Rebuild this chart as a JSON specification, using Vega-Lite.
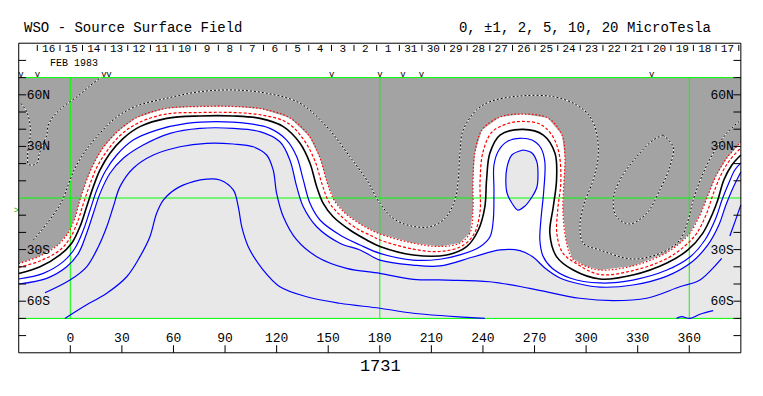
{
"$schema": "https://vega.github.io/schema/vega-lite/v6.json",
"width": 763, "height": 396, "padding": 0, "autosize": {"type": "none"},
"background": "white",
"config": {"view": {"stroke": null}},
"datasets": {
"box": [{"lon": -30, "lon2": 390, "lat": -70, "lat2": 70}],
"frame": [{"lon": -30, "lon2": 390, "lat": -90, "lat2": 90}],
"cont": [
{"c":"R1","lon":-30,"lat":-38.1},{"c":"R1","lon":-17.6,"lat":-33.7},{"c":"R1","lon":-7.2,"lat":-27.3},{"c":"R1","lon":-1.3,"lat":-20.4},{"c":"R1","lon":2.7,"lat":-11.6},{"c":"R1","lon":5.6,"lat":-1.2},{"c":"R1","lon":9.1,"lat":9.3},{"c":"R1","lon":13.2,"lat":19.2},{"c":"R1","lon":19.0,"lat":29.1},{"c":"R1","lon":27.2,"lat":38.4},{"c":"R1","lon":38.2,"lat":46.5},{"c":"R1","lon":55.1,"lat":52.0},{"c":"R1","lon":75.4,"lat":53.2},{"c":"R1","lon":94.6,"lat":53.2},{"c":"R1","lon":111.5,"lat":51.8},{"c":"R1","lon":127.8,"lat":46.5},{"c":"R1","lon":138.9,"lat":36.1},{"c":"R1","lon":145.2,"lat":23.3},{"c":"R1","lon":149.3,"lat":9.3},{"c":"R1","lon":153.4,"lat":-1.2},{"c":"R1","lon":159.7,"lat":-8.7},{"c":"R1","lon":169.6,"lat":-15.7},{"c":"R1","lon":180.1,"lat":-20.9},{"c":"R1","lon":199.3,"lat":-26.2},{"c":"R1","lon":215.0,"lat":-28.2},{"c":"R1","lon":226.6,"lat":-26.2},{"c":"R1","lon":232.4,"lat":-20.4},{"c":"R1","lon":234.2,"lat":-7.0},{"c":"R1","lon":234.2,"lat":9.3},{"c":"R1","lon":235.3,"lat":26.2},{"c":"R1","lon":239.4,"lat":39.5},{"c":"R1","lon":249.9,"lat":47.1},{"c":"R1","lon":263.2,"lat":48.8},{"c":"R1","lon":277.8,"lat":46.5},{"c":"R1","lon":286.0,"lat":36.6},{"c":"R1","lon":287.7,"lat":23.3},{"c":"R1","lon":287.1,"lat":9.3},{"c":"R1","lon":286.5,"lat":-7.0},{"c":"R1","lon":288.3,"lat":-24.4},{"c":"R1","lon":291.8,"lat":-34.9},{"c":"R1","lon":299.4,"lat":-39.5},{"c":"R1","lon":308.0,"lat":-41.9},{"c":"R1","lon":327.2,"lat":-39.5},{"c":"R1","lon":345.3,"lat":-32.6},{"c":"R1","lon":354.6,"lat":-26.2},{"c":"R1","lon":360.4,"lat":-20.4},{"c":"R1","lon":366.2,"lat":-9.9},{"c":"R1","lon":370.9,"lat":1.7},{"c":"R1","lon":375.5,"lat":12.8},{"c":"R1","lon":381.9,"lat":23.3},{"c":"R1","lon":390,"lat":32.6},
{"c":"Wc","lon":390,"lat":-70},{"c":"Wc","lon":-30,"lat":-70},
{"c":"R2","lon":-30,"lat":-40.3},{"c":"R2","lon":-17.6,"lat":-36.6},{"c":"R2","lon":-6.0,"lat":-30.2},{"c":"R2","lon":-0.2,"lat":-23.3},{"c":"R2","lon":4.2,"lat":-14.0},{"c":"R2","lon":7.7,"lat":-2.9},{"c":"R2","lon":11.5,"lat":8.1},{"c":"R2","lon":15.5,"lat":18.0},{"c":"R2","lon":21.3,"lat":27.3},{"c":"R2","lon":28.9,"lat":36.3},{"c":"R2","lon":39.4,"lat":43.6},{"c":"R2","lon":55.7,"lat":48.8},{"c":"R2","lon":75.4,"lat":49.7},{"c":"R2","lon":94.6,"lat":49.7},{"c":"R2","lon":110.9,"lat":48.3},{"c":"R2","lon":126.0,"lat":43.9},{"c":"R2","lon":135.9,"lat":33.7},{"c":"R2","lon":142.3,"lat":21.5},{"c":"R2","lon":146.4,"lat":8.1},{"c":"R2","lon":150.4,"lat":-2.3},{"c":"R2","lon":156.8,"lat":-9.9},{"c":"R2","lon":166.1,"lat":-17.4},{"c":"R2","lon":175.4,"lat":-22.1},{"c":"R2","lon":180.1,"lat":-24.4},{"c":"R2","lon":199.3,"lat":-29.7},{"c":"R2","lon":215.0,"lat":-31.1},{"c":"R2","lon":227.8,"lat":-27.9},{"c":"R2","lon":234.8,"lat":-20.9},{"c":"R2","lon":238.3,"lat":-8.1},{"c":"R2","lon":238.3,"lat":9.3},{"c":"R2","lon":240.0,"lat":26.7},{"c":"R2","lon":245.3,"lat":38.4},{"c":"R2","lon":254.6,"lat":43.3},{"c":"R2","lon":263.2,"lat":44.5},{"c":"R2","lon":273.1,"lat":43.0},{"c":"R2","lon":280.1,"lat":36.6},{"c":"R2","lon":284.2,"lat":26.2},{"c":"R2","lon":285.3,"lat":9.3},{"c":"R2","lon":283.6,"lat":-5.8},{"c":"R2","lon":283.0,"lat":-20.9},{"c":"R2","lon":286.5,"lat":-32.0},{"c":"R2","lon":294.7,"lat":-38.4},{"c":"R2","lon":308.0,"lat":-44.5},{"c":"R2","lon":327.2,"lat":-42.2},{"c":"R2","lon":346.4,"lat":-35.5},{"c":"R2","lon":357.4,"lat":-27.9},{"c":"R2","lon":364.4,"lat":-20.4},{"c":"R2","lon":370.2,"lat":-8.7},{"c":"R2","lon":373.7,"lat":1.7},{"c":"R2","lon":378.4,"lat":13.4},{"c":"R2","lon":383.6,"lat":22.1},{"c":"R2","lon":390,"lat":29.1},
{"c":"K","lon":-30,"lat":-43.9},{"c":"K","lon":-17.6,"lat":-40.0},{"c":"K","lon":-6.0,"lat":-33.1},{"c":"K","lon":0.8,"lat":-26.3},{"c":"K","lon":5.6,"lat":-16.7},{"c":"K","lon":9.5,"lat":-5.1},{"c":"K","lon":13.4,"lat":6.6},{"c":"K","lon":17.3,"lat":16.3},{"c":"K","lon":23.1,"lat":26.0},{"c":"K","lon":30.8,"lat":34.7},{"c":"K","lon":40.5,"lat":41.5},{"c":"K","lon":56.1,"lat":46.3},{"c":"K","lon":75.4,"lat":47.7},{"c":"K","lon":94.8,"lat":47.7},{"c":"K","lon":110.3,"lat":46.3},{"c":"K","lon":123.9,"lat":41.5},{"c":"K","lon":133.6,"lat":31.8},{"c":"K","lon":139.4,"lat":20.2},{"c":"K","lon":143.3,"lat":6.6},{"c":"K","lon":147.1,"lat":-3.1},{"c":"K","lon":152.9,"lat":-10.9},{"c":"K","lon":162.6,"lat":-18.6},{"c":"K","lon":172.4,"lat":-24.4},{"c":"K","lon":180.1,"lat":-28.2},{"c":"K","lon":199.5,"lat":-33.1},{"c":"K","lon":218.9,"lat":-33.1},{"c":"K","lon":230.5,"lat":-28.3},{"c":"K","lon":237.3,"lat":-18.6},{"c":"K","lon":241.1,"lat":-5.1},{"c":"K","lon":242.1,"lat":10.5},{"c":"K","lon":244.0,"lat":26.0},{"c":"K","lon":249.9,"lat":36.6},{"c":"K","lon":263.4,"lat":39.9},{"c":"K","lon":275.1,"lat":36.6},{"c":"K","lon":281.9,"lat":26.0},{"c":"K","lon":282.8,"lat":10.5},{"c":"K","lon":280.9,"lat":-5.1},{"c":"K","lon":278.9,"lat":-20.5},{"c":"K","lon":282.8,"lat":-34.1},{"c":"K","lon":292.5,"lat":-41.9},{"c":"K","lon":308.0,"lat":-47.1},{"c":"K","lon":327.2,"lat":-44.8},{"c":"K","lon":347.0,"lat":-37.8},{"c":"K","lon":359.2,"lat":-30.2},{"c":"K","lon":367.9,"lat":-20.4},{"c":"K","lon":373.7,"lat":-8.7},{"c":"K","lon":376.6,"lat":-1.2},{"c":"K","lon":380.1,"lat":10.5},{"c":"K","lon":384.8,"lat":19.2},{"c":"K","lon":390,"lat":25.0},
{"c":"B1","lon":-30,"lat":-47.1},{"c":"B1","lon":-15.7,"lat":-43.8},{"c":"B1","lon":-4.1,"lat":-37.0},{"c":"B1","lon":2.7,"lat":-29.2},{"c":"B1","lon":7.6,"lat":-18.6},{"c":"B1","lon":11.5,"lat":-7.0},{"c":"B1","lon":15.4,"lat":4.7},{"c":"B1","lon":20.2,"lat":15.3},{"c":"B1","lon":27.0,"lat":25.0},{"c":"B1","lon":36.6,"lat":33.7},{"c":"B1","lon":50.2,"lat":39.5},{"c":"B1","lon":67.7,"lat":43.4},{"c":"B1","lon":85.1,"lat":44.4},{"c":"B1","lon":102.6,"lat":43.4},{"c":"B1","lon":116.1,"lat":40.5},{"c":"B1","lon":125.8,"lat":33.7},{"c":"B1","lon":131.7,"lat":24.0},{"c":"B1","lon":135.5,"lat":10.5},{"c":"B1","lon":139.4,"lat":-3.1},{"c":"B1","lon":145.2,"lat":-12.8},{"c":"B1","lon":156.8,"lat":-21.5},{"c":"B1","lon":168.5,"lat":-27.3},{"c":"B1","lon":180.1,"lat":-32.2},{"c":"B1","lon":199.3,"lat":-36.1},{"c":"B1","lon":215.0,"lat":-35.6},{"c":"B1","lon":226.6,"lat":-33.1},{"c":"B1","lon":238.3,"lat":-28.3},{"c":"B1","lon":244.1,"lat":-22.5},{"c":"B1","lon":246.0,"lat":-12.8},{"c":"B1","lon":246.4,"lat":4.7},{"c":"B1","lon":246.4,"lat":19.2},{"c":"B1","lon":249.3,"lat":27.9},{"c":"B1","lon":254.6,"lat":33.1},{"c":"B1","lon":261.5,"lat":34.7},{"c":"B1","lon":268.5,"lat":33.7},{"c":"B1","lon":273.7,"lat":29.1},{"c":"B1","lon":276.0,"lat":20.9},{"c":"B1","lon":275.4,"lat":4.7},{"c":"B1","lon":273.7,"lat":-12.8},{"c":"B1","lon":273.1,"lat":-24.4},{"c":"B1","lon":274.9,"lat":-33.7},{"c":"B1","lon":280.1,"lat":-40.7},{"c":"B1","lon":290.6,"lat":-46.5},{"c":"B1","lon":308.0,"lat":-49.4},{"c":"B1","lon":327.2,"lat":-47.7},{"c":"B1","lon":347.0,"lat":-41.9},{"c":"B1","lon":360.4,"lat":-34.3},{"c":"B1","lon":369.1,"lat":-24.4},{"c":"B1","lon":375.5,"lat":-11.6},{"c":"B1","lon":379.0,"lat":-1.2},{"c":"B1","lon":383.0,"lat":8.7},{"c":"B1","lon":386.5,"lat":16.3},{"c":"B1","lon":390,"lat":20.4},
{"c":"B2","lon":-30,"lat":-50.0},{"c":"B2","lon":-13.7,"lat":-46.7},{"c":"B2","lon":-2.1,"lat":-40.0},{"c":"B2","lon":4.7,"lat":-32.2},{"c":"B2","lon":9.5,"lat":-20.5},{"c":"B2","lon":13.4,"lat":-8.9},{"c":"B2","lon":17.3,"lat":2.7},{"c":"B2","lon":23.1,"lat":14.4},{"c":"B2","lon":30.8,"lat":23.1},{"c":"B2","lon":42.4,"lat":30.8},{"c":"B2","lon":58.0,"lat":37.6},{"c":"B2","lon":75.4,"lat":40.5},{"c":"B2","lon":94.8,"lat":40.5},{"c":"B2","lon":110.3,"lat":38.6},{"c":"B2","lon":121.9,"lat":32.7},{"c":"B2","lon":127.7,"lat":22.1},{"c":"B2","lon":131.7,"lat":6.6},{"c":"B2","lon":135.5,"lat":-5.1},{"c":"B2","lon":143.3,"lat":-16.7},{"c":"B2","lon":156.8,"lat":-26.3},{"c":"B2","lon":168.5,"lat":-30.2},{"c":"B2","lon":180.1,"lat":-36.1},{"c":"B2","lon":199.3,"lat":-39.0},{"c":"B2","lon":215.0,"lat":-39.5},{"c":"B2","lon":234.2,"lat":-34.3},{"c":"B2","lon":249.9,"lat":-30.2},{"c":"B2","lon":261.5,"lat":-30.6},{"c":"B2","lon":269.1,"lat":-34.3},{"c":"B2","lon":276.0,"lat":-40.7},{"c":"B2","lon":284.8,"lat":-46.5},{"c":"B2","lon":296.4,"lat":-50.0},{"c":"B2","lon":308.0,"lat":-51.8},{"c":"B2","lon":327.2,"lat":-50.6},{"c":"B2","lon":347.0,"lat":-45.4},{"c":"B2","lon":361.5,"lat":-37.2},{"c":"B2","lon":370.8,"lat":-27.3},{"c":"B2","lon":377.2,"lat":-15.7},{"c":"B2","lon":381.3,"lat":-4.1},{"c":"B2","lon":385.4,"lat":5.8},{"c":"B2","lon":390,"lat":15.1},
{"c":"Gc","lon":390,"lat":-70},{"c":"Gc","lon":-30,"lat":-70},
{"c":"B3","lon":-14.7,"lat":-55.1},{"c":"B3","lon":-0.2,"lat":-47.7},{"c":"B3","lon":9.5,"lat":-40.0},{"c":"B3","lon":16.3,"lat":-28.3},{"c":"B3","lon":21.2,"lat":-16.7},{"c":"B3","lon":25.0,"lat":-5.1},{"c":"B3","lon":28.9,"lat":6.6},{"c":"B3","lon":36.6,"lat":17.3},{"c":"B3","lon":48.3,"lat":25.0},{"c":"B3","lon":63.8,"lat":29.8},{"c":"B3","lon":79.3,"lat":31.8},{"c":"B3","lon":94.8,"lat":31.4},{"c":"B3","lon":106.4,"lat":29.8},{"c":"B3","lon":114.2,"lat":25.0},{"c":"B3","lon":118.0,"lat":16.3},{"c":"B3","lon":120.0,"lat":2.7},{"c":"B3","lon":123.9,"lat":-10.9},{"c":"B3","lon":131.7,"lat":-24.4},{"c":"B3","lon":143.3,"lat":-34.1},{"c":"B3","lon":160.7,"lat":-40.9},{"c":"B3","lon":180.1,"lat":-43.8},{"c":"B3","lon":199.5,"lat":-47.3},{"c":"B3","lon":218.9,"lat":-47.7},{"c":"B3","lon":243.9,"lat":-48.7},{"c":"B3","lon":267.2,"lat":-52.5},{"c":"B3","lon":296.3,"lat":-58.3},{"c":"B3","lon":315.8,"lat":-59.7},{"c":"B3","lon":335.2,"lat":-58.3},{"c":"B3","lon":354.5,"lat":-51.6},{"c":"B3","lon":366.2,"lat":-47.7},{"c":"B3","lon":378.8,"lat":-35.1},
{"c":"B3b","lon":383.6,"lat":-22.1},{"c":"B3b","lon":386.5,"lat":-14.0},{"c":"B3b","lon":390,"lat":-4.1},
{"c":"B4","lon":-3.1,"lat":-70.0},{"c":"B4","lon":7.6,"lat":-63.2},{"c":"B4","lon":21.2,"lat":-55.4},{"c":"B4","lon":32.8,"lat":-45.8},{"c":"B4","lon":40.5,"lat":-34.1},{"c":"B4","lon":46.3,"lat":-22.5},{"c":"B4","lon":50.2,"lat":-8.9},{"c":"B4","lon":54.1,"lat":-1.2},{"c":"B4","lon":61.9,"lat":5.6},{"c":"B4","lon":71.5,"lat":9.5},{"c":"B4","lon":79.3,"lat":11.0},{"c":"B4","lon":87.0,"lat":10.5},{"c":"B4","lon":94.8,"lat":4.7},{"c":"B4","lon":97.7,"lat":-5.1},{"c":"B4","lon":99.7,"lat":-16.7},{"c":"B4","lon":103.5,"lat":-28.3},{"c":"B4","lon":112.2,"lat":-41.9},{"c":"B4","lon":121.9,"lat":-51.6},{"c":"B4","lon":137.5,"lat":-57.4},{"c":"B4","lon":156.8,"lat":-61.2},{"c":"B4","lon":180.1,"lat":-64.1},{"c":"B4","lon":199.5,"lat":-67.0},{"c":"B4","lon":218.9,"lat":-68.6},{"c":"B4","lon":241.1,"lat":-70.0},
{"c":"B4b","lon":352.6,"lat":-70.0},{"c":"B4b","lon":355.5,"lat":-69.0},{"c":"B4b","lon":360.4,"lat":-70.0},{"c":"B4b","lon":366.2,"lat":-67.6},{"c":"B4b","lon":373.9,"lat":-65.5},
{"c":"IS","lon":263.2,"lat":27.9},{"c":"IS","lon":256.8,"lat":25.0},{"c":"IS","lon":254.0,"lat":18.0},{"c":"IS","lon":253.3,"lat":10.5},{"c":"IS","lon":254.0,"lat":2.9},{"c":"IS","lon":256.8,"lat":-2.9},{"c":"IS","lon":260.3,"lat":-7.0},{"c":"IS","lon":264.4,"lat":-4.7},{"c":"IS","lon":268.5,"lat":0.6},{"c":"IS","lon":271.4,"lat":6.4},{"c":"IS","lon":272.0,"lat":13.4},{"c":"IS","lon":271.4,"lat":20.9},{"c":"IS","lon":268.5,"lat":26.2},{"c":"IS","lon":263.2,"lat":27.9},
{"c":"D0","lon":-28.7,"lat":55.0},{"c":"D0","lon":-25.4,"lat":50.2},{"c":"D0","lon":-23.4,"lat":42.4},{"c":"D0","lon":-23.4,"lat":35.7},{"c":"D0","lon":-24.4,"lat":29.8},{"c":"D0","lon":-24.8,"lat":24.0},{"c":"D0","lon":-24.4,"lat":19.6},{"c":"D0","lon":-21.5,"lat":19.2},{"c":"D0","lon":-19.0,"lat":20.7},{"c":"D0","lon":-18.2,"lat":25.0},{"c":"D0","lon":-15.7,"lat":31.8},{"c":"D0","lon":-13.7,"lat":36.6},{"c":"D0","lon":-12.8,"lat":42.4},{"c":"D0","lon":-9.9,"lat":47.3},{"c":"D0","lon":-4.1,"lat":53.1},{"c":"D0","lon":4.7,"lat":59.5},{"c":"D0","lon":12.0,"lat":65.7},{"c":"D0","lon":17.5,"lat":70.0},
{"c":"D1","lon":-21.5,"lat":-24.4},{"c":"D1","lon":-12.8,"lat":-13.8},{"c":"D1","lon":-5.0,"lat":-2.1},{"c":"D1","lon":-1.2,"lat":7.6},{"c":"D1","lon":2.7,"lat":17.3},{"c":"D1","lon":8.5,"lat":26.9},{"c":"D1","lon":16.3,"lat":36.6},{"c":"D1","lon":26.0,"lat":46.3},{"c":"D1","lon":37.6,"lat":53.1},{"c":"D1","lon":56.1,"lat":58.0},{"c":"D1","lon":75.4,"lat":61.8},{"c":"D1","lon":94.8,"lat":62.8},{"c":"D1","lon":114.2,"lat":60.9},{"c":"D1","lon":133.6,"lat":55.1},{"c":"D1","lon":149.1,"lat":41.5},{"c":"D1","lon":162.6,"lat":24.0},{"c":"D1","lon":172.4,"lat":10.5},{"c":"D1","lon":180.1,"lat":-3.1},{"c":"D1","lon":187.8,"lat":-11.8},{"c":"D1","lon":197.5,"lat":-16.1},{"c":"D1","lon":209.2,"lat":-16.7},{"c":"D1","lon":217.9,"lat":-11.8},{"c":"D1","lon":223.7,"lat":-1.2},{"c":"D1","lon":225.6,"lat":10.5},{"c":"D1","lon":226.6,"lat":26.0},{"c":"D1","lon":228.5,"lat":39.5},{"c":"D1","lon":236.3,"lat":51.2},{"c":"D1","lon":244.1,"lat":56.0},{"c":"D1","lon":261.5,"lat":59.3},{"c":"D1","lon":280.9,"lat":58.9},{"c":"D1","lon":294.5,"lat":54.1},{"c":"D1","lon":302.2,"lat":47.3},{"c":"D1","lon":306.1,"lat":37.6},{"c":"D1","lon":307.0,"lat":24.0},{"c":"D1","lon":304.1,"lat":10.5},{"c":"D1","lon":298.3,"lat":-5.1},{"c":"D1","lon":296.4,"lat":-16.7},{"c":"D1","lon":298.3,"lat":-26.3},{"c":"D1","lon":308.0,"lat":-30.2},{"c":"D1","lon":327.4,"lat":-35.5},{"c":"D1","lon":344.8,"lat":-31.4},{"c":"D1","lon":354.5,"lat":-24.4},{"c":"D1","lon":359.4,"lat":-12.8},{"c":"D1","lon":362.3,"lat":-1.2},{"c":"D1","lon":367.2,"lat":12.4},{"c":"D1","lon":373.9,"lat":26.0},{"c":"D1","lon":381.7,"lat":37.6},{"c":"D1","lon":390,"lat":45.4},
{"c":"D2","lon":344.8,"lat":36.6},{"c":"D2","lon":350.6,"lat":29.8},{"c":"D2","lon":348.7,"lat":18.2},{"c":"D2","lon":342.9,"lat":4.7},{"c":"D2","lon":335.2,"lat":-8.9},{"c":"D2","lon":325.4,"lat":-15.1},{"c":"D2","lon":317.7,"lat":-10.9},{"c":"D2","lon":315.8,"lat":-1.2},{"c":"D2","lon":319.7,"lat":10.5},{"c":"D2","lon":329.4,"lat":24.0},{"c":"D2","lon":339.0,"lat":33.7},{"c":"D2","lon":344.8,"lat":36.6}
],
"rules": [
{"k":"g","lon":0,"lon2":0,"lat":-70,"lat2":70},{"k":"g","lon":180,"lon2":180,"lat":-70,"lat2":70},{"k":"g","lon":360,"lon2":360,"lat":-70,"lat2":70},
{"k":"g","lon":-30,"lon2":390,"lat":0,"lat2":0},{"k":"g","lon":-30,"lon2":390,"lat":70,"lat2":70},{"k":"g","lon":-30,"lon2":390,"lat":-70,"lat2":-70},
{"k":"t","lon":-30,"lon2":-25.7,"lat":-80,"lat2":-80},{"k":"t","lon":-30,"lon2":-25.7,"lat":-70,"lat2":-70},{"k":"t","lon":-30,"lon2":-25.7,"lat":-60,"lat2":-60},{"k":"t","lon":-30,"lon2":-25.7,"lat":-50,"lat2":-50},{"k":"t","lon":-30,"lon2":-25.7,"lat":-40,"lat2":-40},{"k":"t","lon":-30,"lon2":-25.7,"lat":-30,"lat2":-30},{"k":"t","lon":-30,"lon2":-25.7,"lat":-20,"lat2":-20},{"k":"t","lon":-30,"lon2":-25.7,"lat":-10,"lat2":-10},
{"k":"t","lon":-30,"lon2":-25.7,"lat":10,"lat2":10},{"k":"t","lon":-30,"lon2":-25.7,"lat":20,"lat2":20},{"k":"t","lon":-30,"lon2":-25.7,"lat":30,"lat2":30},{"k":"t","lon":-30,"lon2":-25.7,"lat":40,"lat2":40},{"k":"t","lon":-30,"lon2":-25.7,"lat":50,"lat2":50},{"k":"t","lon":-30,"lon2":-25.7,"lat":60,"lat2":60},{"k":"t","lon":-30,"lon2":-25.7,"lat":70,"lat2":70},{"k":"t","lon":-30,"lon2":-25.7,"lat":80,"lat2":80},
{"k":"t","lon":385.7,"lon2":390,"lat":-80,"lat2":-80},{"k":"t","lon":385.7,"lon2":390,"lat":-70,"lat2":-70},{"k":"t","lon":385.7,"lon2":390,"lat":-60,"lat2":-60},{"k":"t","lon":385.7,"lon2":390,"lat":-50,"lat2":-50},{"k":"t","lon":385.7,"lon2":390,"lat":-40,"lat2":-40},{"k":"t","lon":385.7,"lon2":390,"lat":-30,"lat2":-30},{"k":"t","lon":385.7,"lon2":390,"lat":-20,"lat2":-20},{"k":"t","lon":385.7,"lon2":390,"lat":-10,"lat2":-10},
{"k":"t","lon":385.7,"lon2":390,"lat":10,"lat2":10},{"k":"t","lon":385.7,"lon2":390,"lat":20,"lat2":20},{"k":"t","lon":385.7,"lon2":390,"lat":30,"lat2":30},{"k":"t","lon":385.7,"lon2":390,"lat":40,"lat2":40},{"k":"t","lon":385.7,"lon2":390,"lat":50,"lat2":50},{"k":"t","lon":385.7,"lon2":390,"lat":60,"lat2":60},{"k":"t","lon":385.7,"lon2":390,"lat":70,"lat2":70},{"k":"t","lon":385.7,"lon2":390,"lat":80,"lat2":80},
{"k":"t","lon":0,"lon2":0,"lat":-90,"lat2":-85.6},{"k":"t","lon":30,"lon2":30,"lat":-90,"lat2":-85.6},{"k":"t","lon":60,"lon2":60,"lat":-90,"lat2":-85.6},{"k":"t","lon":90,"lon2":90,"lat":-90,"lat2":-85.6},{"k":"t","lon":120,"lon2":120,"lat":-90,"lat2":-85.6},{"k":"t","lon":150,"lon2":150,"lat":-90,"lat2":-85.6},{"k":"t","lon":180,"lon2":180,"lat":-90,"lat2":-85.6},{"k":"t","lon":210,"lon2":210,"lat":-90,"lat2":-85.6},{"k":"t","lon":240,"lon2":240,"lat":-90,"lat2":-85.6},{"k":"t","lon":270,"lon2":270,"lat":-90,"lat2":-85.6},{"k":"t","lon":300,"lon2":300,"lat":-90,"lat2":-85.6},{"k":"t","lon":330,"lon2":330,"lat":-90,"lat2":-85.6},{"k":"t","lon":360,"lon2":360,"lat":-90,"lat2":-85.6},
{"k":"t","lon":-19.2,"lon2":-19.2,"lat":89,"lat2":85.5},{"k":"t","lon":-6.0,"lon2":-6.0,"lat":89,"lat2":85.5},{"k":"t","lon":7.1,"lon2":7.1,"lat":89,"lat2":85.5},{"k":"t","lon":20.3,"lon2":20.3,"lat":89,"lat2":85.5},{"k":"t","lon":33.4,"lon2":33.4,"lat":89,"lat2":85.5},{"k":"t","lon":46.6,"lon2":46.6,"lat":89,"lat2":85.5},{"k":"t","lon":59.8,"lon2":59.8,"lat":89,"lat2":85.5},{"k":"t","lon":72.9,"lon2":72.9,"lat":89,"lat2":85.5},{"k":"t","lon":86.1,"lon2":86.1,"lat":89,"lat2":85.5},{"k":"t","lon":99.2,"lon2":99.2,"lat":89,"lat2":85.5},{"k":"t","lon":112.4,"lon2":112.4,"lat":89,"lat2":85.5},{"k":"t","lon":125.6,"lon2":125.6,"lat":89,"lat2":85.5},{"k":"t","lon":138.7,"lon2":138.7,"lat":89,"lat2":85.5},{"k":"t","lon":151.9,"lon2":151.9,"lat":89,"lat2":85.5},{"k":"t","lon":165.0,"lon2":165.0,"lat":89,"lat2":85.5},{"k":"t","lon":178.2,"lon2":178.2,"lat":89,"lat2":85.5},{"k":"t","lon":191.4,"lon2":191.4,"lat":89,"lat2":85.5},{"k":"t","lon":204.5,"lon2":204.5,"lat":89,"lat2":85.5},{"k":"t","lon":217.7,"lon2":217.7,"lat":89,"lat2":85.5},{"k":"t","lon":230.8,"lon2":230.8,"lat":89,"lat2":85.5},{"k":"t","lon":244.0,"lon2":244.0,"lat":89,"lat2":85.5},{"k":"t","lon":257.2,"lon2":257.2,"lat":89,"lat2":85.5},{"k":"t","lon":270.3,"lon2":270.3,"lat":89,"lat2":85.5},{"k":"t","lon":283.5,"lon2":283.5,"lat":89,"lat2":85.5},{"k":"t","lon":296.6,"lon2":296.6,"lat":89,"lat2":85.5},{"k":"t","lon":309.8,"lon2":309.8,"lat":89,"lat2":85.5},{"k":"t","lon":323.0,"lon2":323.0,"lat":89,"lat2":85.5},{"k":"t","lon":336.1,"lon2":336.1,"lat":89,"lat2":85.5},{"k":"t","lon":349.3,"lon2":349.3,"lat":89,"lat2":85.5},{"k":"t","lon":362.4,"lon2":362.4,"lat":89,"lat2":85.5},{"k":"t","lon":375.6,"lon2":375.6,"lat":89,"lat2":85.5},{"k":"t","lon":388.8,"lon2":388.8,"lat":89,"lat2":85.5}
],
"texts": [
{"k":"title","t":"WSO - Source Surface Field","lon":-26.9,"lat":99.1},
{"k":"legend","t":"0, ±1, 2, 5, 10, 20 MicroTesla","lon":372.6,"lat":99.1},
{"k":"feb","t":"FEB 1983","lon":-11.8,"lat":78.3},
{"k":"cr","t":"1731","lon":180.3,"lat":-97.5},
{"k":"day","t":"16","lon":-12.6,"lat":86.4},{"k":"day","t":"15","lon":0.5,"lat":86.4},{"k":"day","t":"14","lon":13.7,"lat":86.4},{"k":"day","t":"13","lon":26.9,"lat":86.4},{"k":"day","t":"12","lon":40.0,"lat":86.4},{"k":"day","t":"11","lon":53.2,"lat":86.4},{"k":"day","t":"10","lon":66.4,"lat":86.4},{"k":"day","t":"9","lon":79.5,"lat":86.4},{"k":"day","t":"8","lon":92.7,"lat":86.4},{"k":"day","t":"7","lon":105.8,"lat":86.4},{"k":"day","t":"6","lon":119.0,"lat":86.4},{"k":"day","t":"5","lon":132.2,"lat":86.4},{"k":"day","t":"4","lon":145.3,"lat":86.4},{"k":"day","t":"3","lon":158.5,"lat":86.4},{"k":"day","t":"2","lon":171.6,"lat":86.4},{"k":"day","t":"1","lon":184.8,"lat":86.4},{"k":"day","t":"31","lon":198.0,"lat":86.4},{"k":"day","t":"30","lon":211.1,"lat":86.4},{"k":"day","t":"29","lon":224.3,"lat":86.4},{"k":"day","t":"28","lon":237.4,"lat":86.4},{"k":"day","t":"27","lon":250.6,"lat":86.4},{"k":"day","t":"26","lon":263.8,"lat":86.4},{"k":"day","t":"25","lon":276.9,"lat":86.4},{"k":"day","t":"24","lon":290.1,"lat":86.4},{"k":"day","t":"23","lon":303.2,"lat":86.4},{"k":"day","t":"22","lon":316.4,"lat":86.4},{"k":"day","t":"21","lon":329.6,"lat":86.4},{"k":"day","t":"20","lon":342.7,"lat":86.4},{"k":"day","t":"19","lon":355.9,"lat":86.4},{"k":"day","t":"18","lon":369.0,"lat":86.4},{"k":"day","t":"17","lon":382.2,"lat":86.4},
{"k":"latL","t":"60N","lon":-25.4,"lat":60},{"k":"latL","t":"30N","lon":-25.4,"lat":30},{"k":"latL","t":"30S","lon":-25.4,"lat":-30},{"k":"latL","t":"60S","lon":-25.4,"lat":-60},
{"k":"latR","t":"60N","lon":385.9,"lat":60},{"k":"latR","t":"30N","lon":385.9,"lat":30},{"k":"latR","t":"30S","lon":385.9,"lat":-30},{"k":"latR","t":"60S","lon":385.9,"lat":-60},
{"k":"lonl","t":"0","lon":0,"lat":-81.2},{"k":"lonl","t":"30","lon":30,"lat":-81.2},{"k":"lonl","t":"60","lon":60,"lat":-81.2},{"k":"lonl","t":"90","lon":90,"lat":-81.2},{"k":"lonl","t":"120","lon":120,"lat":-81.2},{"k":"lonl","t":"150","lon":150,"lat":-81.2},{"k":"lonl","t":"180","lon":180,"lat":-81.2},{"k":"lonl","t":"210","lon":210,"lat":-81.2},{"k":"lonl","t":"240","lon":240,"lat":-81.2},{"k":"lonl","t":"270","lon":270,"lat":-81.2},{"k":"lonl","t":"300","lon":300,"lat":-81.2},{"k":"lonl","t":"330","lon":330,"lat":-81.2},{"k":"lonl","t":"360","lon":360,"lat":-81.2},
{"k":"v","t":"v","lon":-28.7,"lat":72.1},{"k":"v","t":"v","lon":-19.1,"lat":72.1},{"k":"v","t":"v","lon":19.6,"lat":72.1},{"k":"v","t":"v","lon":22.5,"lat":72.1},{"k":"v","t":"v","lon":152.0,"lat":72.1},{"k":"v","t":"v","lon":180.1,"lat":72.1},{"k":"v","t":"v","lon":193.5,"lat":72.1},{"k":"v","t":"v","lon":204.3,"lat":72.1},{"k":"v","t":"v","lon":338.1,"lat":72.1},
{"k":"gt","t":">","lon":-31.3,"lat":-7.0}
]
},
"encoding": {
"x": {"field": "lon", "type": "quantitative", "scale": {"domain": [-40.89, 402.88], "nice": false, "zero": false}, "axis": null},
"y": {"field": "lat", "type": "quantitative", "scale": {"domain": [-115.12, 115.12], "nice": false, "zero": false}, "axis": null}
},
"layer": [
{"data": {"name": "box"}, "mark": {"type": "rect", "fill": "#a3a3a3"}, "encoding": {"x2": {"field": "lon2"}, "y2": {"field": "lat2"}}},
{"data": {"name": "cont"}, "transform": [{"filter": {"field": "c", "oneOf": ["R1", "Wc"]}}], "mark": {"type": "line", "fill": "#ffffff", "strokeOpacity": 0}, "encoding": {"order": {"value": null}}},
{"data": {"name": "cont"}, "transform": [{"filter": {"field": "c", "oneOf": ["B2", "Gc"]}}], "mark": {"type": "line", "fill": "#e8e8e8", "strokeOpacity": 0}, "encoding": {"order": {"value": null}}},
{"data": {"name": "cont"}, "transform": [{"filter": {"field": "c", "oneOf": ["IS"]}}], "mark": {"type": "line", "fill": "#e8e8e8", "strokeOpacity": 0, "interpolate": "catmull-rom"}, "encoding": {"order": {"value": null}}},
{"data": {"name": "rules"}, "transform": [{"filter": "datum.k == 'g'"}], "mark": {"type": "rule", "color": "#00ff00", "strokeWidth": 1}, "encoding": {"x2": {"field": "lon2"}, "y2": {"field": "lat2"}}},
{"data": {"name": "cont"}, "transform": [{"filter": {"field": "c", "oneOf": ["D0", "D1", "D2"]}}], "mark": {"type": "line", "color": "#ffffff", "strokeWidth": 1, "interpolate": "catmull-rom"}, "encoding": {"detail": {"field": "c"}, "order": {"value": null}}},
{"data": {"name": "cont"}, "transform": [{"filter": {"field": "c", "oneOf": ["D0", "D1", "D2"]}}], "mark": {"type": "line", "color": "#000000", "strokeWidth": 1, "strokeDash": [2, 2], "interpolate": "catmull-rom"}, "encoding": {"detail": {"field": "c"}, "order": {"value": null}}},
{"data": {"name": "cont"}, "transform": [{"filter": {"field": "c", "oneOf": ["R1"]}}], "mark": {"type": "line", "color": "#ff0000", "strokeWidth": 1.2, "strokeDash": [1.5, 2], "interpolate": "catmull-rom"}, "encoding": {"order": {"value": null}}},
{"data": {"name": "cont"}, "transform": [{"filter": {"field": "c", "oneOf": ["R2"]}}], "mark": {"type": "line", "color": "#ff0000", "strokeWidth": 1.2, "strokeDash": [3, 2], "interpolate": "catmull-rom"}, "encoding": {"order": {"value": null}}},
{"data": {"name": "cont"}, "transform": [{"filter": {"field": "c", "oneOf": ["K"]}}], "mark": {"type": "line", "color": "#000000", "strokeWidth": 1.6, "interpolate": "catmull-rom"}, "encoding": {"order": {"value": null}}},
{"data": {"name": "cont"}, "transform": [{"filter": {"field": "c", "oneOf": ["B1", "B2", "B3", "B3b", "B4", "B4b", "IS"]}}], "mark": {"type": "line", "color": "#0000ff", "strokeWidth": 1.2, "interpolate": "catmull-rom"}, "encoding": {"detail": {"field": "c"}, "order": {"value": null}}},
{"data": {"name": "rules"}, "transform": [{"filter": "datum.k == 't'"}], "mark": {"type": "rule", "color": "#000000", "strokeWidth": 1}, "encoding": {"x2": {"field": "lon2"}, "y2": {"field": "lat2"}}},
{"data": {"name": "texts"}, "transform": [{"filter": "datum.k == 'title'"}], "mark": {"type": "text", "font": "Liberation Mono", "fontSize": 14, "align": "left", "baseline": "middle", "color": "#000000"}, "encoding": {"text": {"field": "t"}}},
{"data": {"name": "texts"}, "transform": [{"filter": "datum.k == 'legend'"}], "mark": {"type": "text", "font": "Liberation Mono", "fontSize": 14, "align": "right", "baseline": "middle", "color": "#000000"}, "encoding": {"text": {"field": "t"}}},
{"data": {"name": "texts"}, "transform": [{"filter": "datum.k == 'feb'"}], "mark": {"type": "text", "font": "Liberation Mono", "fontSize": 10, "align": "left", "baseline": "middle", "color": "#000000"}, "encoding": {"text": {"field": "t"}}},
{"data": {"name": "texts"}, "transform": [{"filter": "datum.k == 'cr'"}], "mark": {"type": "text", "font": "Liberation Mono", "fontSize": 17, "align": "center", "baseline": "middle", "color": "#000000"}, "encoding": {"text": {"field": "t"}}},
{"data": {"name": "texts"}, "transform": [{"filter": "datum.k == 'day'"}], "mark": {"type": "text", "font": "Liberation Mono", "fontSize": 11, "align": "center", "baseline": "middle", "color": "#000000"}, "encoding": {"text": {"field": "t"}}},
{"data": {"name": "texts"}, "transform": [{"filter": "datum.k == 'latL'"}], "mark": {"type": "text", "font": "Liberation Mono", "fontSize": 13, "align": "left", "baseline": "middle", "color": "#000000"}, "encoding": {"text": {"field": "t"}}},
{"data": {"name": "texts"}, "transform": [{"filter": "datum.k == 'latR'"}], "mark": {"type": "text", "font": "Liberation Mono", "fontSize": 13, "align": "right", "baseline": "middle", "color": "#000000"}, "encoding": {"text": {"field": "t"}}},
{"data": {"name": "texts"}, "transform": [{"filter": "datum.k == 'lonl'"}], "mark": {"type": "text", "font": "Liberation Mono", "fontSize": 13, "align": "center", "baseline": "middle", "color": "#000000"}, "encoding": {"text": {"field": "t"}}},
{"data": {"name": "texts"}, "transform": [{"filter": "datum.k == 'v'"}], "mark": {"type": "text", "font": "Liberation Mono", "fontSize": 9, "align": "center", "baseline": "middle", "color": "#000000"}, "encoding": {"text": {"field": "t"}}},
{"data": {"name": "texts"}, "transform": [{"filter": "datum.k == 'gt'"}], "mark": {"type": "text", "font": "Liberation Mono", "fontSize": 9, "align": "center", "baseline": "middle", "color": "#00c000"}, "encoding": {"text": {"field": "t"}}},
{"data": {"name": "frame"}, "mark": {"type": "rect", "filled": false, "stroke": "#000000", "strokeWidth": 1}, "encoding": {"x2": {"field": "lon2"}, "y2": {"field": "lat2"}}}
]
}
